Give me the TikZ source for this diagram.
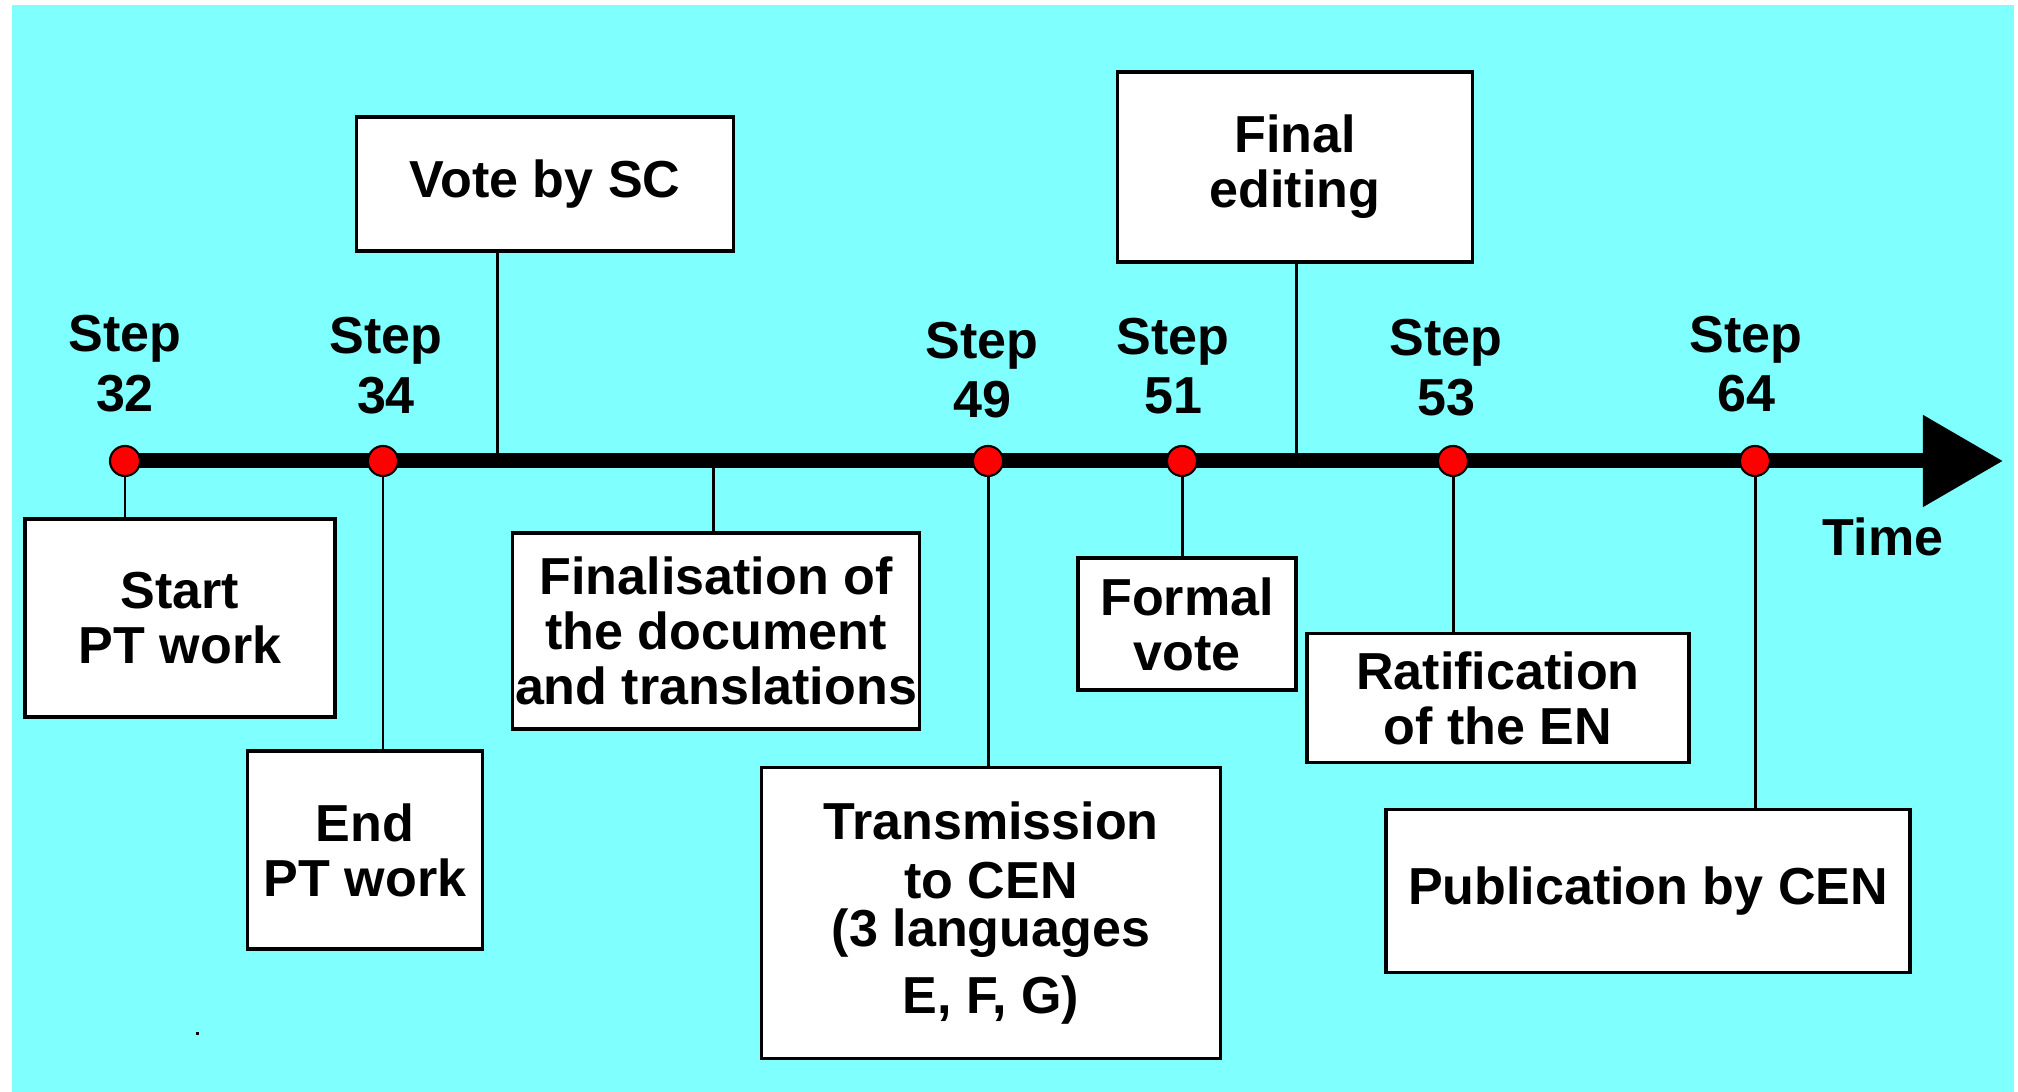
\documentclass[tikz,border=0pt]{standalone}
\usepackage{fontspec}
\setmainfont{Liberation Sans}
\usetikzlibrary{arrows.meta}
\definecolor{bgcyan}{RGB}{128,255,255}
\begin{document}
\begin{tikzpicture}[x=0.01cm, y=-0.01cm,
  font=\fontsize{14.8pt}{15.6pt}\selectfont\bfseries,
  box/.style={draw, line width=1pt, fill=white, align=center, inner sep=0pt},
  dot/.style={circle, draw, fill=red, line width=0.6pt, inner sep=0pt, minimum size=0.3cm},
  steplabel/.style={align=center, inner sep=0pt, font=\fontsize{14.8pt}{17pt}\selectfont\bfseries},
  link/.style={line width=0.85pt}]
  \useasboundingbox (0,0) rectangle (2018,1092);
  \fill[bgcyan] (12,5) rectangle (2014,1092);
  \fill (196,1032) rectangle (199,1035);

  \coordinate (t0) at (125,461);
  \coordinate (tip) at (2003,461);
  \draw[line width=0.15cm, -{Triangle[length=0.8cm, width=0.88cm]}] (t0) -- (tip);

  \node[dot] (d32) at (125,461) {};
  \node[dot] (d34) at (383,461) {};
  \node[dot] (d49) at (988,461) {};
  \node[dot] (d51) at (1182,461) {};
  \node[dot] (d53) at (1453,461) {};
  \node[dot] (d64) at (1755,461) {};

  \node[steplabel] (s32) at (125,364) {Step\\32};
  \node[steplabel] (s34) at (386,366) {Step\\34};
  \node[steplabel] (s49) at (982,370) {Step\\49};
  \node[steplabel] (s51) at (1173,366) {Step\\51};
  \node[steplabel] (s53) at (1446,368) {Step\\53};
  \node[steplabel] (s64) at (1746,364) {Step\\64};
  \node[inner sep=0pt] (time) at (1883,537) {Time};

  \node[box, minimum width=3.10cm, minimum height=1.98cm] (Start) at (180,618) {Start\\PT work};
  \node[box, minimum width=2.35cm, minimum height=1.98cm] (End) at (365,850) {End\\PT work};
  \node[box, minimum width=3.77cm, minimum height=1.34cm] (Vote) at (545,184) {Vote by SC};
  \node[box, minimum width=4.07cm, minimum height=1.96cm] (Fin) at (716,631) {Finalisation of\\the document\\and translations};
  \node[box, minimum width=4.59cm, minimum height=2.91cm] (Trans) at (991,913) {Transmission\\[1.1pt]to CEN\\[-2pt](3 languages\\[3.4pt]E, F, G)};
  \node[box, minimum width=3.55cm, minimum height=1.90cm] (Final) at (1295,167) {Final\\editing};
  \node[box, minimum width=2.18cm, minimum height=1.32cm] (Formal) at (1187,624) {Formal\\vote};
  \node[box, minimum width=3.82cm, minimum height=1.29cm] (Ratif) at (1498,698) {Ratification\\of the EN};
  \node[box, minimum width=5.24cm, minimum height=1.63cm] (Pub) at (1648,891) {Publication by CEN};

  \coordinate (a1) at (497,461);
  \coordinate (a2) at (713,461);
  \coordinate (a3) at (1296,461);

  \draw[link] (d32) -- (d32 |- Start.north);
  \draw[link] (d34) -- (d34 |- End.north);
  \draw[link] (Vote.south -| a1) -- (a1);
  \draw[link] (a2) -- (a2 |- Fin.north);
  \draw[link] (d49) -- (d49 |- Trans.north);
  \draw[link] (d51) -- (d51 |- Formal.north);
  \draw[link] (Final.south -| a3) -- (a3);
  \draw[link] (d53) -- (d53 |- Ratif.north);
  \draw[link] (d64) -- (d64 |- Pub.north);
\end{tikzpicture}
\end{document}
